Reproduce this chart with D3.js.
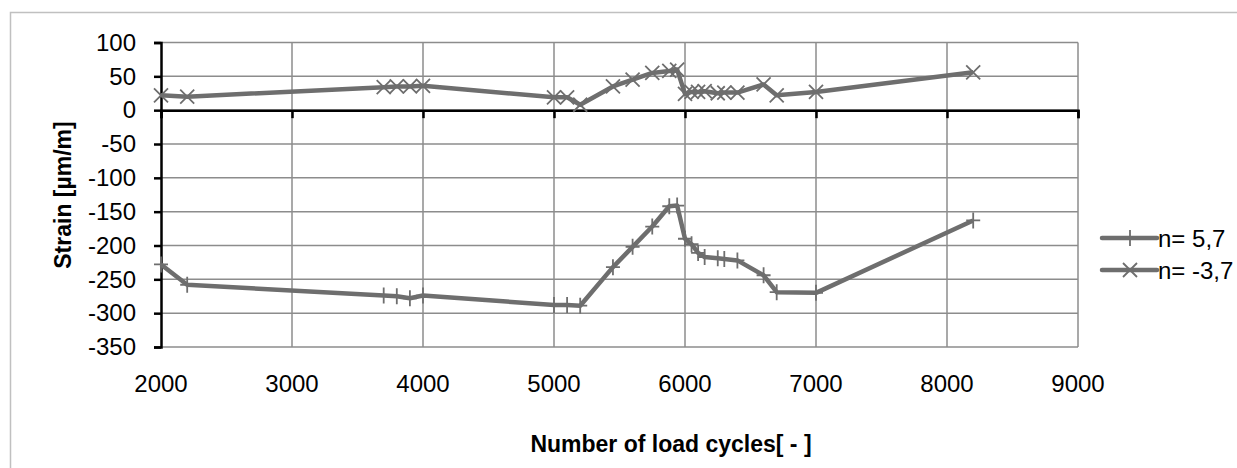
<!DOCTYPE html>
<html lang="en">
<head>
<meta charset="UTF-8">
<title>Strain vs load cycles</title>
<script src="https://d3js.org/d3.v7.min.js"></script>
<style>
  body { margin: 0; background: #fff; }
  text { font-family: "Liberation Sans", Arial, sans-serif; fill: #000; }
</style>
</head>
<body>
<div id="chart"></div>
<script>
// load cycles (shared by both series)
const cycles = [2000, 2200, 3700, 3800, 3900, 4000, 5000, 5100, 5200, 5450, 5600, 5750, 5880, 5940,
                6000, 6050, 6100, 6150, 6250, 6300, 6400, 6600, 6700, 7000, 8200];
// n = 5,7 (plus markers)
const seriesA = [-228, -258, -274, -275, -278, -274, -288, -288, -289, -232, -202, -172, -142, -141,
                 -190, -198, -211, -217, -219, -220, -222, -244, -269, -270, -163];
// n = -3,7 (cross markers)
const seriesB = [22, 20, 34, 35, 35, 36, 19, 19, 8, 35, 45, 55, 58, 60,
                 24, 27, 27, 28, 25, 26, 26, 38, 22, 27, 56];
const seriesNames = ["n= 5,7", "n= -3,7"];
const xTicks = [2000, 3000, 4000, 5000, 6000, 7000, 8000, 9000];
const yTicks = [100, 50, 0, -50, -100, -150, -200, -250, -300, -350];

const W = 1237, H = 468;
const svg = d3.select("#chart").append("svg")
    .attr("width", W).attr("height", H);

// outer chart border
svg.append("rect")
    .attr("x", 10.5).attr("y", 12.5)
    .attr("width", W).attr("height", H)
    .attr("fill", "none").attr("stroke", "#c0c0c0").attr("stroke-width", 1.5);

const x = d3.scaleLinear().domain([2000, 9000]).range([161, 1078]);
const y = d3.scaleLinear().domain([-350, 100]).range([347, 42.5]);
const gridColor = "#8c8c8c";
const lineColor = "#6e6e6e";

// gridlines
svg.append("g").selectAll("line.h").data(yTicks).join("line")
    .attr("x1", x(2000)).attr("x2", x(9000))
    .attr("y1", d => y(d)).attr("y2", d => y(d))
    .attr("stroke", gridColor).attr("stroke-width", 1.5);
svg.append("g").selectAll("line.v").data(xTicks.slice(1)).join("line")
    .attr("x1", d => x(d)).attr("x2", d => x(d))
    .attr("y1", y(100)).attr("y2", y(-350))
    .attr("stroke", gridColor).attr("stroke-width", 1.5);

// y axis
const yAxis = svg.append("g")
    .attr("transform", `translate(${x(2000)},0)`)
    .call(d3.axisLeft(y).tickValues(yTicks).tickSize(7).tickPadding(18).tickFormat(d => String(d)));
yAxis.select(".domain").attr("stroke", "#000").attr("stroke-width", 2.5);
yAxis.selectAll(".tick line").attr("stroke", "#000").attr("stroke-width", 2.5);
yAxis.selectAll(".tick text").style("font-size", "24px");

// x axis on zero line, labels under the plot
const xAxis = svg.append("g")
    .attr("transform", `translate(0,${y(0)})`)
    .call(d3.axisBottom(x).tickValues(xTicks).tickSize(8).tickFormat(""));
xAxis.select(".domain").attr("stroke", "#000").attr("stroke-width", 2.5);
xAxis.selectAll(".tick line").attr("stroke", "#000").attr("stroke-width", 2.5);

svg.append("g").selectAll("text").data(xTicks).join("text")
    .attr("x", d => x(d)).attr("y", 392)
    .attr("text-anchor", "middle")
    .style("font-size", "24px")
    .text(d => d);

// axis titles
svg.append("text")
    .attr("x", 671).attr("y", 452)
    .attr("text-anchor", "middle")
    .style("font-size", "23px").style("font-weight", "bold")
    .text("Number of load cycles[ - ]");
svg.append("text")
    .attr("transform", "translate(71,195) rotate(-90)")
    .attr("text-anchor", "middle")
    .style("font-size", "23px").style("font-weight", "bold")
    .text("Strain [µm/m]");

const line = d3.line().x(d => x(d[0])).y(d => y(d[1]));
const plusPath = "M-7,0H7M0,-8V8";
const crossPath = "M-7,-7L7,7M-7,7L7,-7";

function drawSeries(values, marker) {
    const pts = cycles.map((c, i) => [c, values[i]]);
    svg.append("path").datum(pts)
        .attr("d", line)
        .attr("fill", "none").attr("stroke", lineColor)
        .attr("stroke-width", 4.5).attr("stroke-linejoin", "round");
    svg.append("g").selectAll("path").data(pts).join("path")
        .attr("transform", d => `translate(${x(d[0])},${y(d[1])})`)
        .attr("d", marker)
        .attr("fill", "none").attr("stroke", lineColor).attr("stroke-width", 1.8);
}
drawSeries(seriesA, plusPath);
drawSeries(seriesB, crossPath);

// legend
const legend = svg.append("g").attr("transform", "translate(1102,0)");
[[plusPath, 238], [crossPath, 270]].forEach(([m, ly], i) => {
    legend.append("line")
        .attr("x1", 0).attr("x2", 55).attr("y1", ly).attr("y2", ly)
        .attr("stroke", lineColor).attr("stroke-width", 4.5).attr("stroke-linecap", "round");
    legend.append("path")
        .attr("transform", `translate(28,${ly})`)
        .attr("d", m).attr("fill", "none")
        .attr("stroke", lineColor).attr("stroke-width", 1.8);
    legend.append("text")
        .attr("x", 56).attr("y", ly + 9)
        .style("font-size", "24px")
        .text(seriesNames[i]);
});
</script>
</body>
</html>
